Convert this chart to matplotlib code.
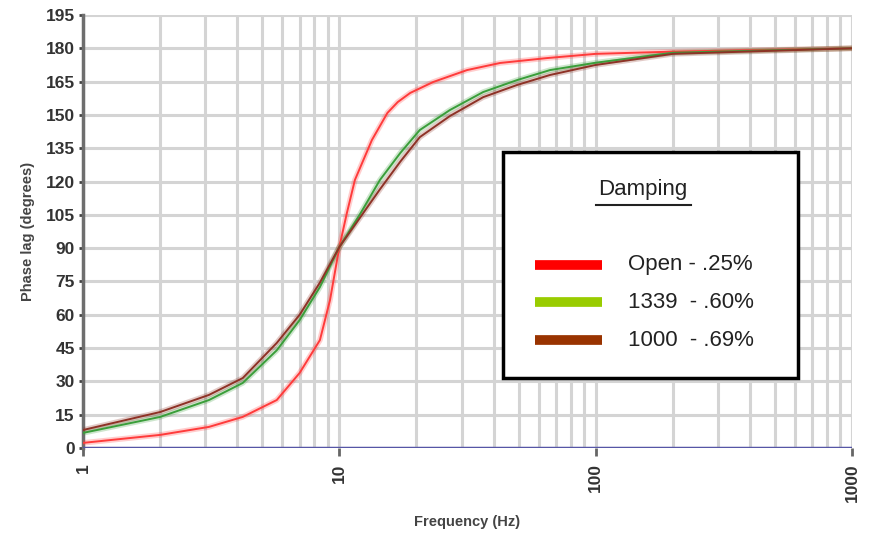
import numpy as np
import matplotlib.pyplot as plt
from matplotlib.patches import Rectangle

# ========== DATA ==========
freq_open = [1, 2, 3.1, 4.2, 5.7, 7.0, 8.4, 9.2, 10, 10.7, 11.5, 13.4, 15.4, 16.9, 18.9, 23.2, 31.5, 42.4, 64.6, 100, 200, 1000]
phase_open = [2.3, 5.9, 9.5, 14, 21.6, 33.8, 48.6, 66.7, 90.5, 105.8, 120.7, 138.7, 150.9, 155.8, 159.9, 164.8, 170.2, 173.4, 175.6, 177.5, 178.5, 180]

freq_damped = [1, 2, 3.1, 4.2, 5.7, 7.0, 8.4, 10, 12.0, 14.4, 17.3, 20.6, 27, 36.4, 49.4, 66.4, 100, 200, 1000]
phase_1339 = [6.8, 14, 21.6, 29.3, 44, 57.6, 72.5, 90.5, 105, 120.7, 132.9, 143.2, 152.2, 160.3, 165.7, 170.2, 173.5, 178, 180]
phase_1000 = [8.1, 16.2, 23.9, 31.5, 47.3, 60, 74.5, 90.5, 103.5, 116.5, 129, 140, 149.5, 158, 163.5, 168, 172.5, 177.5, 180]

legend_labels = ["Open - .25%", "1339  - .60%", "1000  - .69%"]
legend_colors = ["#ff0000", "#99cc00", "#993300"]

y_ticks = list(range(0, 196, 15))
x_ticks = [1, 10, 100, 1000]

# ========== FIGURE ==========
fig = plt.figure(figsize=(8.69, 5.35), dpi=100)
ax = fig.add_axes([83 / 869, 1 - 448 / 535, 769 / 869, 433 / 535])
ax.set_xscale("log")
ax.set_xlim(1, 1000)
ax.set_ylim(0, 195)

# grid
grid_c = "#d4d4d4"
for dec in [1, 10, 100]:
    for k in range(1, 10):
        ax.axvline(dec * k, color=grid_c, lw=2.2, zorder=0)
ax.axvline(1000, color=grid_c, lw=2.2, zorder=0)
for yv in y_ticks:
    ax.axhline(yv, color=grid_c, lw=2.2, zorder=0)

# curves
series = [
    (freq_open, phase_open, "#ff3b3b"),
    (freq_damped, phase_1339, "#3a9e3a"),
    (freq_damped, phase_1000, "#8e3226"),
]
for f, p, c in series:
    ax.plot(f, p, color=c, lw=4, alpha=0.25, zorder=3, solid_capstyle="butt")
    ax.plot(f, p, color=c, lw=1.4, zorder=4)

# zero line
ax.axhline(0, color="#5656a6", lw=2.5, zorder=5)

for s in ["top", "right", "bottom"]:
    ax.spines[s].set_visible(False)
ax.spines["left"].set_color("#6e6e6e")
ax.spines["left"].set_linewidth(2.5)

tick_font = dict(family=["Liberation Sans Narrow", "Liberation Sans"], weight="bold", size=12.5)
ax.set_yticks(y_ticks)
ax.set_yticklabels([str(v) for v in y_ticks], **tick_font, color="#333333")
ax.set_xticks(x_ticks)
ax.set_xticklabels([str(v) for v in x_ticks], rotation=90, **tick_font, color="#333333")
ax.minorticks_off()
ax.tick_params(axis="y", length=3, width=2, color="#444444", pad=3)
ax.tick_params(axis="x", length=6, width=2, color="#666666", pad=5)

label_font = dict(family=["Liberation Sans Narrow", "Liberation Sans"], weight="bold", size=10.5, color="#444444")
ax.set_ylabel("Phase lag (degrees)", **label_font, va="center")
ax.set_xlabel("Frequency (Hz)", **label_font, va="center")
ax.yaxis.set_label_coords((28 - 83) / 769, 0.5)
ax.xaxis.set_label_coords(0.5, (448 - 522) / 433)

# ========== LEGEND BOX ==========
T = ax.transAxes
ax.add_patch(Rectangle((0.546, 0.162), 0.384, 0.522, transform=T, facecolor="white",
                       edgecolor="black", lw=2.5, zorder=10))
ax.text(0.728, 0.596, "Damping", transform=T, ha="center", va="center",
        fontsize=16, family="Liberation Sans", color="#222222", zorder=11)
ax.plot([0.667, 0.790], [0.562, 0.562], transform=T, color="#222222", lw=1.5, zorder=11)

sw_y = [0.423, 0.337, 0.249]
for lab, col, yy in zip(legend_labels, legend_colors, sw_y):
    ax.plot([0.588, 0.675], [yy, yy], transform=T, color=col, lw=7, solid_capstyle="butt", zorder=11)
    ax.text(0.709, yy, lab, transform=T, ha="left", va="center", fontsize=16,
            family="Liberation Sans", color="#222222", zorder=11)

fig.savefig("out.png", dpi=100)
